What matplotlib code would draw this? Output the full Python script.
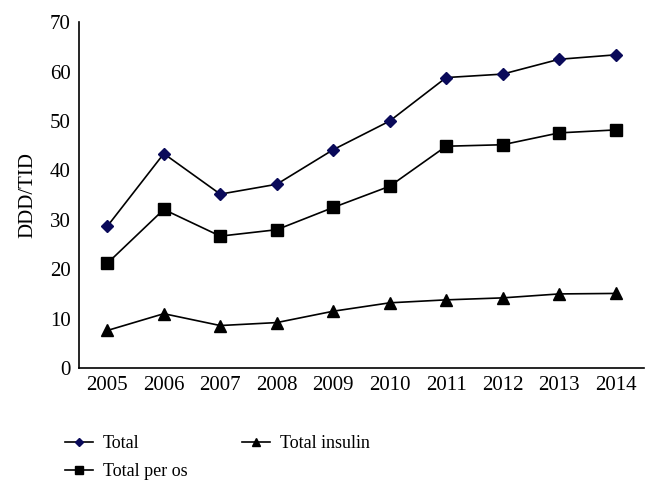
import numpy as np
import matplotlib.pyplot as plt
from matplotlib.lines import Line2D

years = ['2005', '2006', '2007', '2008', '2009', '2010', '2011', '2012', '2013', '2014']
total = [28.7, 43.4, 35.2, 37.2, 44.2, 50.0, 58.8, 59.5, 62.5, 63.4]
total_per_os = [21.2, 32.1, 26.7, 28.0, 32.5, 36.8, 44.9, 45.2, 47.6, 48.2]
total_insulin = [7.6, 11.0, 8.6, 9.2, 11.5, 13.2, 13.8, 14.2, 15.0, 15.1]

plt.rcParams['font.family'] = ['Liberation Serif', 'DejaVu Serif']

fig = plt.figure(figsize=(6.59, 4.94), dpi=100)
ax = fig.add_axes([0.12, 0.255, 0.857, 0.7])

x = np.arange(len(years))
ax.plot(x, total, color='black', lw=1.2, marker='D', ms=6,
        mfc='#0a0a5a', mec='#0a0a5a', label='Total')
ax.plot(x, total_per_os, color='black', lw=1.2, marker='s', ms=9,
        mfc='black', mec='black', label='Total per os')
ax.plot(x, total_insulin, color='black', lw=1.2, marker='^', ms=9,
        mfc='black', mec='black', label='Total insulin')

ax.set_xlim(-0.5, 9.5)
ax.set_ylim(0, 70)
ax.set_xticks(x)
ax.set_xticklabels(years)
ax.set_yticks(range(0, 71, 10))
ax.tick_params(length=0, labelsize=15, pad=6)
ax.set_ylabel('DDD/TID', fontsize=15, labelpad=9)
for s in ['top', 'right']:
    ax.spines[s].set_visible(False)
for s in ['left', 'bottom']:
    ax.spines[s].set_linewidth(1.2)

handles = [
    Line2D([], [], color='black', lw=1.2, marker='D', ms=4, mfc='#0a0a5a', mec='#0a0a5a'),
    Line2D([], [], color='black', lw=1.2, marker='s', ms=6, mfc='black', mec='black'),
    Line2D([], [], color='black', lw=1.2, marker='^', ms=6, mfc='black', mec='black'),
]
fig.legend(handles, ['Total', 'Total per os', 'Total insulin'], ncol=2,
           loc='upper left', bbox_to_anchor=(0.085, 0.137), frameon=False,
           fontsize=13, handlelength=1.55, columnspacing=3.0, borderpad=0,
           labelspacing=0.6, handletextpad=0.55)

fig.savefig('out.png', dpi=100)
